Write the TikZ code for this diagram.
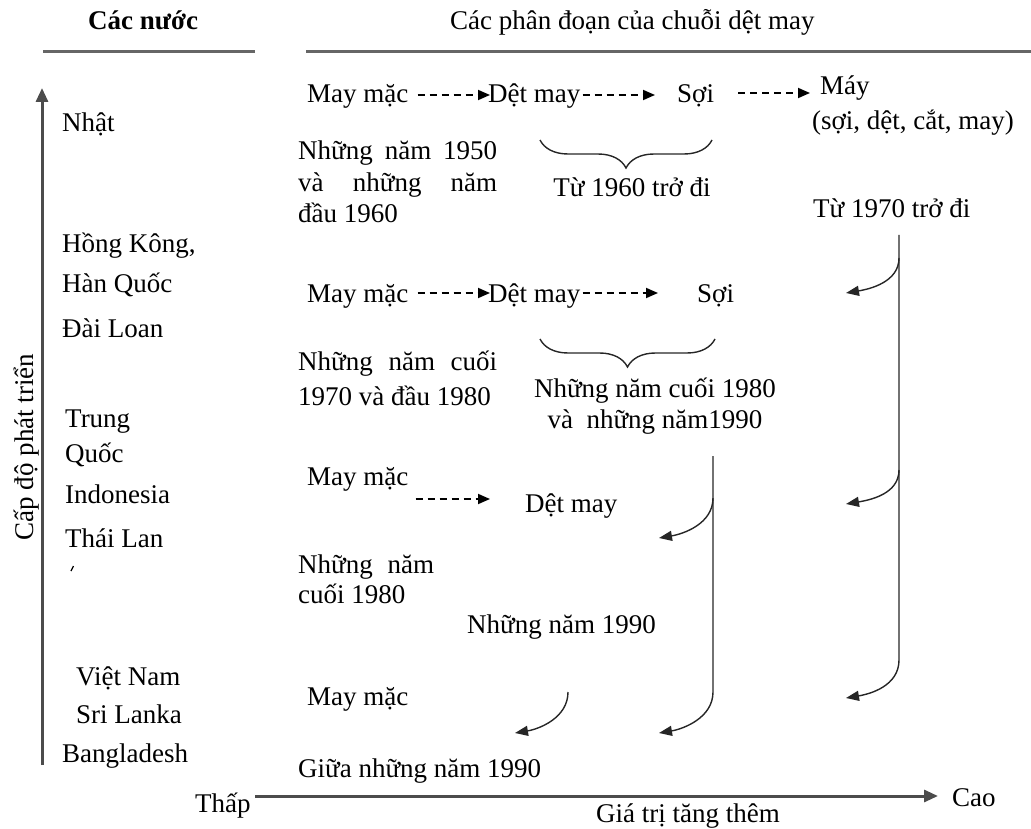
\documentclass[tikz,border=0pt]{standalone}
\usepackage{fontspec}
\setmainfont{Liberation Serif}
\usetikzlibrary{arrows.meta,decorations.pathreplacing,calc}
\begin{document}
\begin{tikzpicture}[x=1pt,y=-1pt,
  txt/.style={font=\fontsize{27}{32}\selectfont, inner sep=0pt, anchor=base west},
  ctxt/.style={txt, anchor=base},
  hdrline/.style={line width=3pt, draw=black!60},
  axisarrow/.style={line width=3pt, draw=black!70, -{Triangle[length=14pt,width=12pt]}},
  dasharrow/.style={line width=1.8pt, dash pattern=on 7pt off 5pt, -{Triangle[length=12pt,width=10pt]}},
  bendarrow/.style={line width=1.4pt, draw=black!85, -{Triangle[length=13pt,width=10pt]}},
  brc/.style={decorate, decoration={brace, mirror, amplitude=28pt}, line width=1.4pt, draw=black!85}
]
\path[use as bounding box] (0,0) rectangle (1031,829);

% headers
\node[txt, font=\fontsize{27}{32}\selectfont\bfseries] (hdrL) at (88,30) {Các nước};
\node[txt] (hdrR) at (450,30) {Các phân đoạn của chuỗi dệt may};
\coordinate (hl1) at (43,52); \coordinate (hl2) at (255,52);
\coordinate (hr1) at (306,52); \coordinate (hr2) at (1031,52);
\draw[hdrline] (hl1) -- (hl2);
\draw[hdrline] (hr1) -- (hr2);

% vertical axis
\coordinate (ya0) at (42,765); \coordinate (ya1) at (42,88);
\draw[axisarrow] (ya0) -- (ya1);
\node[txt, anchor=base, rotate=90] (ylab) at (33,447) {Cấp độ phát triển};

% countries
\node[txt] (c1) at (62,132) {Nhật};
\node[txt] (c2) at (62,253) {Hồng Kông,};
\node[txt] (c3) at (62,292) {Hàn Quốc};
\node[txt] (c4) at (62,337) {Đài Loan};
\node[txt] (c5) at (65,427) {Trung};
\node[txt] (c6) at (65,462) {Quốc};
\node[txt] (c7) at (65,503) {Indonesia};
\node[txt] (c8) at (65,547) {Thái Lan};
\coordinate (mk1) at (71,571); \coordinate (mk2) at (73.5,566);
\draw[line width=1.2pt] (mk1) -- (mk2);
\node[txt] (c9) at (76,685) {Việt Nam};
\node[txt] (c10) at (76,723) {Sri Lanka};
\node[txt] (c11) at (62,762) {Bangladesh};

% row 1
\node[txt] (mm1) at (307,103) {May mặc};
\node[txt] (dm1) at (488,103) {Dệt may};
\node[txt] (s1) at (677,103) {Sợi};
\node[txt] (may1) at (820,95) {Máy};
\node[txt] (may1b) at (812,130) {(sợi, dệt, cắt, may)};
\draw[dasharrow] ($(mm1.base east)+(9,-8)$) -- ($(dm1.base west)+(2,-8)$);
\draw[dasharrow] ($(dm1.base east)+(2,-8)$) -- ($(s1.base west)+(-22,-8)$);
\draw[dasharrow] ($(s1.base east)+(24,-10)$) -- ($(may1.base west)+(-10,-2)$);

\node[txt] (t1a) at (298,160) {\hbox to 199pt{Những\hfill năm\hfill 1950}};
\node[txt] (t1b) at (298,192) {\hbox to 199pt{và\hfill những\hfill năm}};
\node[txt] (t1c) at (298,223) {đầu 1960};
\coordinate (b1l) at (540,140); \coordinate (b1r) at (712,140);
\draw[brc] (b1l) -- (b1r);
\node[ctxt] (p1) at (632,197) {Từ 1960 trở đi};
\node[txt] (p2) at (813,218) {Từ 1970 trở đi};

% row 2
\node[txt] (mm2) at (307,302) {May mặc};
\node[txt] (dm2) at (488,302) {Dệt may};
\node[txt] (s2) at (697,302) {Sợi};
\draw[dasharrow] ($(mm2.base east)+(9,-9)$) -- ($(dm2.base west)+(2,-9)$);
\draw[dasharrow] ($(dm2.base east)+(2,-9)$) -- ($(s2.base west)+(-39,-9)$);
\node[txt] (t2a) at (298,370) {\hbox to 199pt{Những\hfill năm\hfill cuối}};
\node[txt] (t2b) at (298,405) {1970 và đầu 1980};
\coordinate (b2l) at (540,339); \coordinate (b2r) at (715,339);
\draw[brc] (b2l) -- (b2r);
\node[ctxt] (p3) at (655,397) {Những năm cuối 1980};
\node[ctxt] (p4) at (655,428) {và\ \ những năm1990};

% row 3
\node[txt] (mm3) at (307,485) {May mặc};
\node[txt] (dm3) at (525,512) {Dệt may};
\draw[dasharrow] ($(mm3.base east)+(7,14)$) -- ($(dm3.base west)+(-35,-13)$);
\node[txt] (t3a) at (298,573) {\hbox to 136pt{Những\hfill năm}};
\node[txt] (t3b) at (298,603) {cuối 1980};
\node[txt] (t3c) at (467,633) {Những năm 1990};

% row 4
\node[txt] (mm4) at (307,705) {May mặc};
\node[txt] (t4) at (298,777) {Giữa những năm 1990};

% right long line with branches
\coordinate (r0) at (899,235);
\coordinate (rb1) at (899,258); \coordinate (ra1) at (846,293);
\coordinate (rb2) at (899,470); \coordinate (ra2) at (846,504);
\coordinate (rb3) at (899,660); \coordinate (ra3) at (846,698);
\draw[bendarrow] (r0) -- (rb1) .. controls ($(rb1)+(0,24)$) and ($(ra1)+(24,-4)$) .. (ra1);
\draw[bendarrow] (rb1) -- (rb3) .. controls ($(rb3)+(0,26)$) and ($(ra3)+(24,-4)$) .. (ra3);
\draw[bendarrow] (rb2) .. controls ($(rb2)+(0,24)$) and ($(ra2)+(24,-4)$) .. (ra2);

% middle line with branches
\coordinate (m0) at (713,456);
\coordinate (mb1) at (713,498); \coordinate (ma1) at (659,538);
\coordinate (mb2) at (713,692); \coordinate (ma2) at (659,733);
\draw[bendarrow] (m0) -- (mb1) .. controls ($(mb1)+(0,26)$) and ($(ma1)+(24,-4)$) .. (ma1);
\draw[bendarrow] (mb1) -- (mb2) .. controls ($(mb2)+(0,26)$) and ($(ma2)+(24,-4)$) .. (ma2);

% small arrow
\coordinate (sm0) at (568,692); \coordinate (sma) at (515,733);
\draw[bendarrow] (sm0) .. controls ($(sm0)+(0,26)$) and ($(sma)+(24,-4)$) .. (sma);

% horizontal axis
\node[txt] (low) at (195,812) {Thấp};
\node[txt] (high) at (952,806) {Cao};
\node[txt] (gt) at (596,822) {Giá trị tăng thêm};
\coordinate (xa0) at (255,796); \coordinate (xa1) at (938,796);
\draw[axisarrow] (xa0) -- (xa1);
\end{tikzpicture}
\end{document}
